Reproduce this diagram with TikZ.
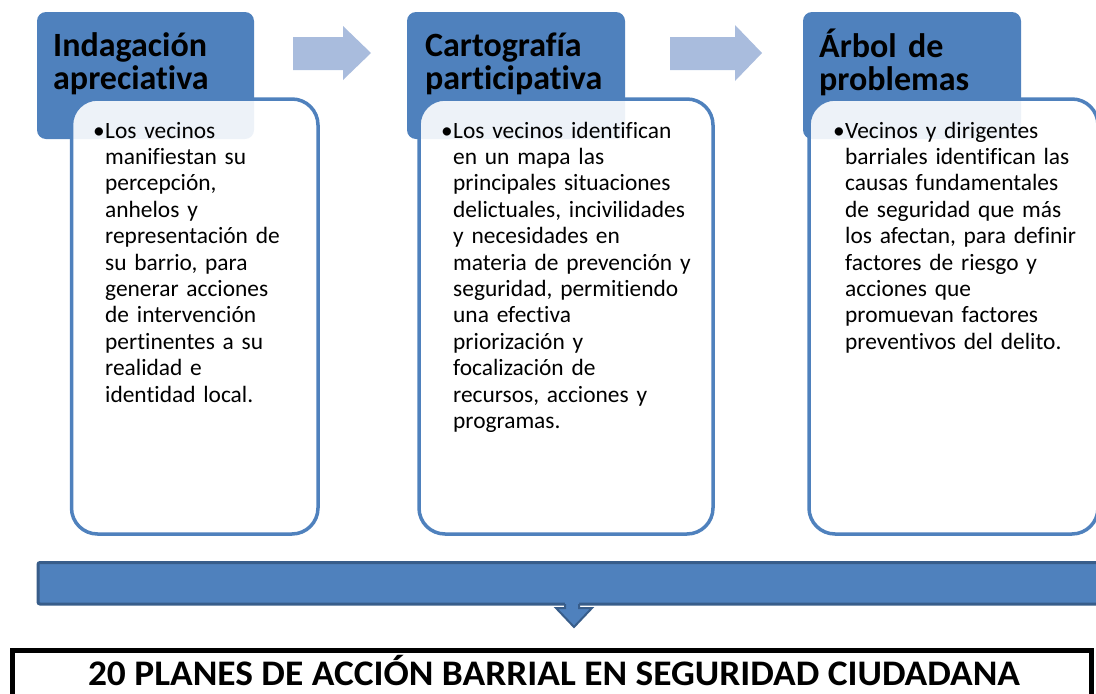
\documentclass[tikz,border=0pt]{standalone}
\usepackage{fontspec}
\setmainfont{Carlito}[Ligatures=NoCommon]
\definecolor{hblue}{RGB}{79,129,189}
\definecolor{ablue}{RGB}{169,188,221}
\definecolor{dblue}{RGB}{56,93,138}
\tikzset{
  hdr/.style={fill=hblue, rounded corners=9pt},
  card/.style={draw=hblue, line width=3.5pt, fill=white, fill opacity=0.9, rounded corners=26pt},
  rarrow/.style={fill=ablue},
  barstyle/.style={fill=hblue, draw=dblue, line width=3pt, rounded corners=2pt},
  finalbox/.style={draw=black, line width=5pt},
  htext/.style={anchor=base west, inner sep=0pt, text width=300pt, align=left,
    font=\fontsize{34}{33}\selectfont\bfseries},
  btext/.style={anchor=base west, inner sep=0pt, text width=300pt, align=left,
    font=\fontsize{23.4}{26.4}\selectfont},
  bullet/.style={anchor=base east, inner sep=0pt, font=\fontsize{23.4}{26.4}\selectfont},
}
\begin{document}
\begin{tikzpicture}[x=1pt,y=-1pt]
\useasboundingbox (0,0) rectangle (1096,694);
\clip (0,0) rectangle (1096,694);
% headers
\path[hdr] (37,12) rectangle (254,139);
\path[hdr] (407,12) rectangle (625,139);
\path[hdr] (803,12) rectangle (1021,139);
\node[htext] (h1) at (53,56) {Indagación\\apreciativa};
\node[htext] (h2) at (425,56) {Cartografía\\participativa};
\node[htext] (h3) at (819,57) {Árbol de\\problemas};
% arrows
\path[rarrow] (293,37) -- (343,37) -- (343,26) -- (371,53) -- (343,80) -- (343,70) -- (293,70) -- cycle;
\path[rarrow] (670,37) -- (735,37) -- (735,25) -- (762,53) -- (735,81) -- (735,70) -- (670,70) -- cycle;
% cards
\path[card] (71.5,99) rectangle (318,534);
\path[card] (419,99) rectangle (713,534);
\path[card] (809,99) rectangle (1098,534);
% body texts
\node[bullet] (b1) at (105,138) {•};
\node[btext] (t1) at (105,138) {Los vecinos\\manifiestan su\\percepción,\\anhelos y\\representación de\\su barrio, para\\generar acciones\\de intervención\\pertinentes a su\\realidad e\\identidad local.};
\node[bullet] (b2) at (453,138) {•};
\node[btext] (t2) at (453,138) {Los vecinos identifican\\en un mapa las\\principales situaciones\\delictuales, incivilidades\\y necesidades en\\materia de prevención y\\seguridad, permitiendo\\una efectiva\\priorización y\\focalización de\\recursos, acciones y\\programas.};
\node[bullet] (b3) at (845,138) {•};
\node[btext] (t3) at (845,138) {Vecinos y dirigentes\\barriales identifican las\\causas fundamentales\\de seguridad que más\\los afectan, para definir\\factores de riesgo y\\acciones que\\promuevan factores\\preventivos del delito.};
% bar and down arrow
\path[barstyle] (38,562.5) rectangle (1110,604);
\fill[hblue] (565,598) -- (579,598) -- (579,608) -- (592,608) -- (574,627) -- (556,608) -- (565,608) -- cycle;
\draw[dblue, line width=2pt, line join=miter] (565,604) -- (565,608) -- (556,608) -- (574,627) -- (592,608) -- (579,608) -- (579,604);
% final box
\draw[finalbox] (12.5,650) rectangle (1091,710);
\node[anchor=base, inner sep=0pt] (final) at (554,685)
  {\resizebox{932pt}{\height}{\fontsize{36}{40}\selectfont\bfseries 20 PLANES DE ACCIÓN BARRIAL EN SEGURIDAD CIUDADANA}};
\end{tikzpicture}
\end{document}
